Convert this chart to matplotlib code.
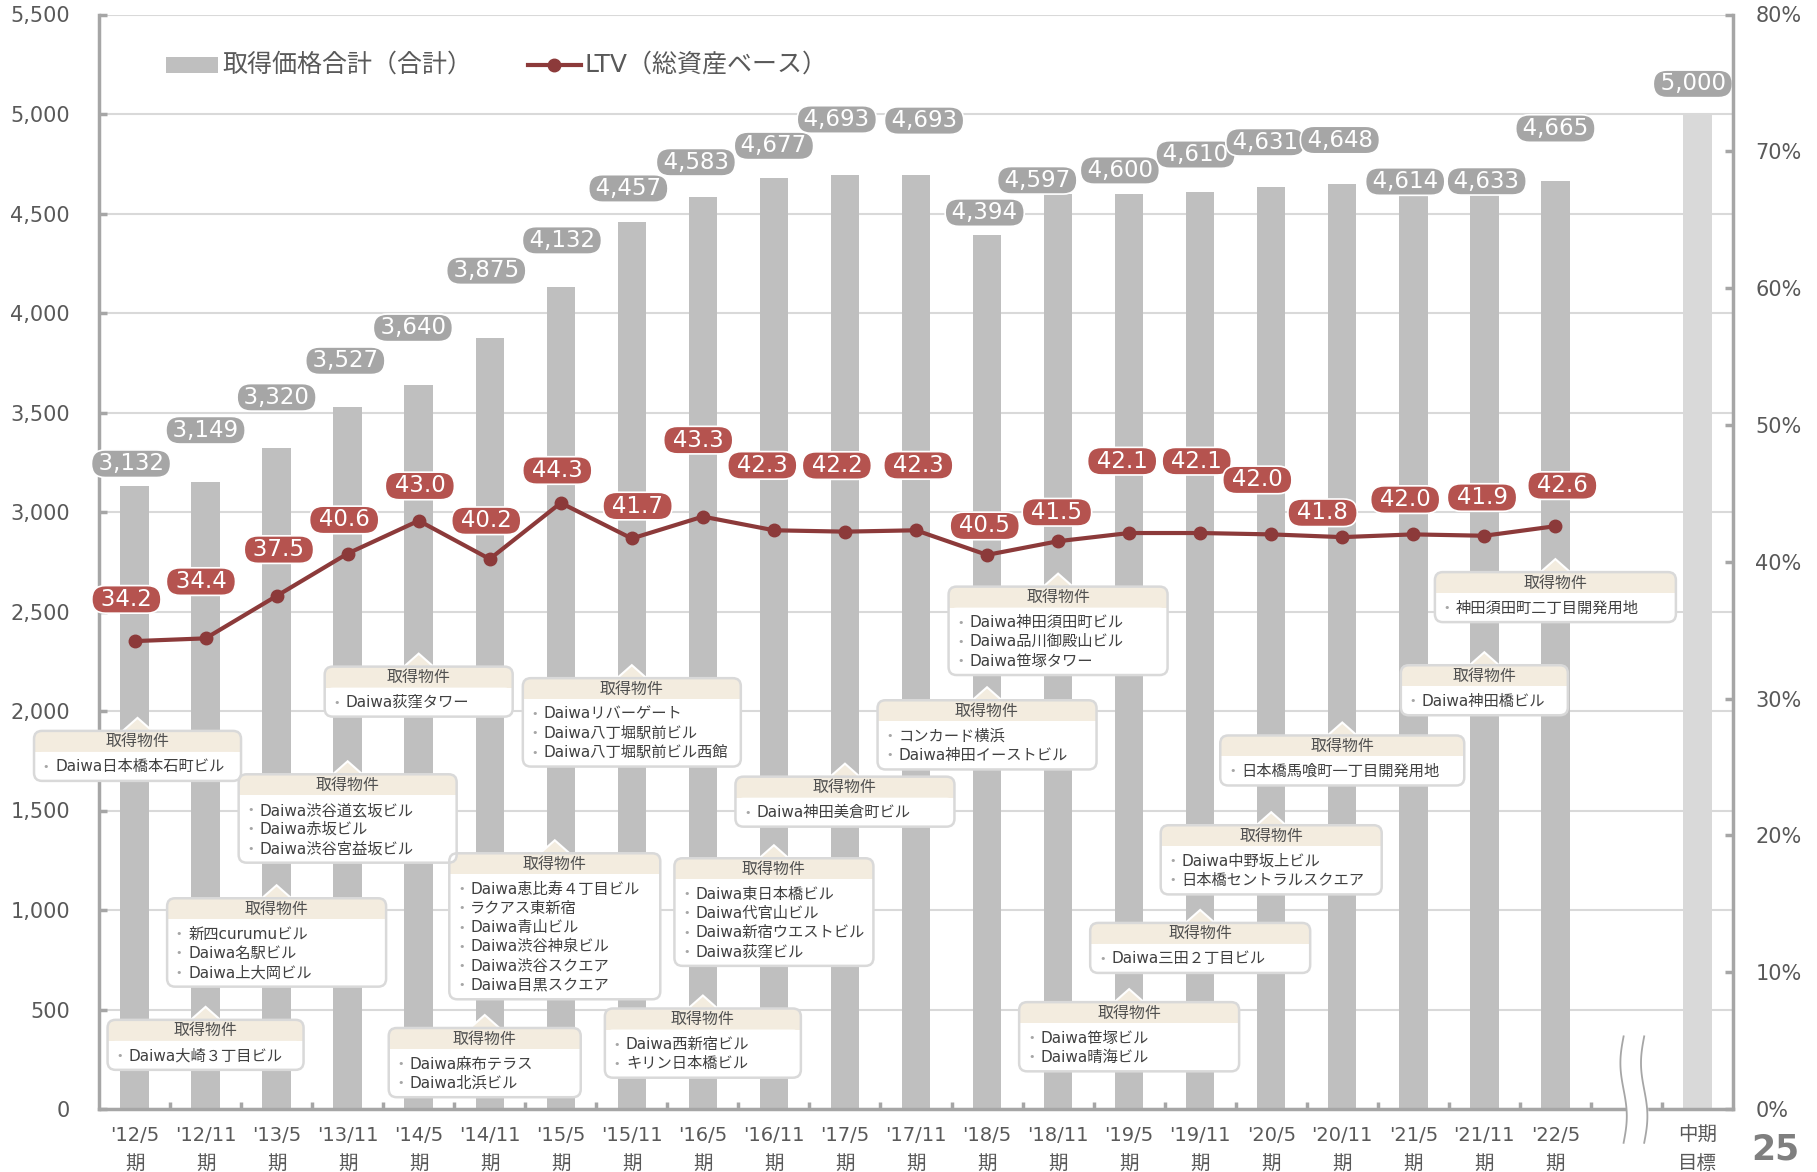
import matplotlib
matplotlib.use("Agg")
import matplotlib.pyplot as plt
import numpy as np
from matplotlib.patches import FancyBboxPatch, Rectangle, Polygon
from matplotlib.transforms import IdentityTransform
from matplotlib.lines import Line2D

plt.rcParams['font.family'] = ['DejaVu Sans', 'Noto Sans CJK JP']

# Data
periods = ["'12/5", "'12/11", "'13/5", "'13/11", "'14/5", "'14/11", "'15/5",
           "'15/11", "'16/5", "'16/11", "'17/5", "'17/11", "'18/5", "'18/11",
           "'19/5", "'19/11", "'20/5", "'20/11", "'21/5", "'21/11", "'22/5"]
price = [3132, 3149, 3320, 3527, 3640, 3875, 4132, 4457, 4583, 4677, 4693,
         4693, 4394, 4597, 4600, 4610, 4631, 4648, 4614, 4633, 4665]
ltv = [34.2, 34.4, 37.5, 40.6, 43.0, 40.2, 44.3, 41.7, 43.3, 42.3, 42.2,
       42.3, 40.5, 41.5, 42.1, 42.1, 42.0, 41.8, 42.0, 41.9, 42.6]
target_label = "中期\n目標"
target_price = 5000

# acquired properties per period
acq_period = [0, 1, 2, 3, 4, 5, 6, 7, 8, 9, 10, 12, 13, 14, 15, 16, 17, 19, 20]
acq_names = [
    ["Daiwa日本橋本石町ビル"],
    ["Daiwa大崎３丁目ビル"],
    ["新四curumuビル", "Daiwa名駅ビル", "Daiwa上大岡ビル"],
    ["Daiwa渋谷道玄坂ビル", "Daiwa赤坂ビル", "Daiwa渋谷宮益坂ビル"],
    ["Daiwa荻窪タワー"],
    ["Daiwa麻布テラス", "Daiwa北浜ビル"],
    ["Daiwa恵比寿４丁目ビル", "ラクアス東新宿", "Daiwa青山ビル",
     "Daiwa渋谷神泉ビル", "Daiwa渋谷スクエア", "Daiwa目黒スクエア"],
    ["Daiwaリバーゲート", "Daiwa八丁堀駅前ビル", "Daiwa八丁堀駅前ビル西館"],
    ["Daiwa西新宿ビル", "キリン日本橋ビル"],
    ["Daiwa東日本橋ビル", "Daiwa代官山ビル", "Daiwa新宿ウエストビル", "Daiwa荻窪ビル"],
    ["Daiwa神田美倉町ビル"],
    ["コンカード横浜", "Daiwa神田イーストビル"],
    ["Daiwa神田須田町ビル", "Daiwa品川御殿山ビル", "Daiwa笹塚タワー"],
    ["Daiwa笹塚ビル", "Daiwa晴海ビル"],
    ["Daiwa三田２丁目ビル"],
    ["Daiwa中野坂上ビル", "日本橋セントラルスクエア"],
    ["日本橋馬喰町一丁目開発用地"],
    ["Daiwa神田橋ビル"],
    ["神田須田町二丁目開発用地"],
]

# layout of the callouts: box top (left axis units) and box width (px)
box_top = [1900, 448, 1059, 1682, 2223, 407, 1285, 2165, 505, 1260, 1670,
           2054, 2625, 537, 935, 1426, 1877, 2230, 2698]
box_w = [207, 196, 219, 218, 188, 192, 211, 218, 196, 199, 219, 219, 219,
         220, 220, 221, 244, 167, 241]
box_dx = [3, 0, 0, 0, 0, -5, -6, 0, 0, 0, 0, 0, 0, 0, 0, 0, 0, 0, 0]

# label offsets (px, image coords)
bar_lbl_dx = [-3, 0, 0, -2, -5, -3, 1, -3, -6, 0, -7, 7, -2, -18, -8, -4,
              -5, -2, -7, 2, 0]
bar_lbl_dy = [19, 45, 44, 40, 49, 58, 40, 29, 30, 28, 48, 47, 19, 12, 20,
              32, 39, 38, 8, 5, 45]
ltv_lbl_dx = [-7, -4, 2, -3, 1, -3, -3, 5, -4, -10, -7, 2, -2, -1, -6, -3,
              -12, -17, -7, -2, 6]
ltv_lbl_dy = [36, 49, 40, 29, 30, 33, 28, 28, 66, 56, 57, 56, 25, 25, 62,
              62, 47, 21, 30, 33, 35]

W, H = 1817, 1172
S = 1.1588 * 0.72  # shrunk-view px -> points

bar_c = '#BFBFBF'
red_line = '#8C3A3A'
red_box = '#B5534F'
beige = '#F3ECDF'
axis_c = '#A6A6A6'
txt_c = '#595959'

fig = plt.figure(figsize=(W / 100, H / 100), dpi=100)
ax = fig.add_axes([99 / W, 1 - 1109 / H, (1733 - 99) / W, (1109 - 14.5) / H])
ax2 = ax.twinx()

x = np.arange(len(periods))
xt = len(periods) + 1
ax.bar(x, price, width=0.4, color=bar_c, zorder=2)
ax.bar([xt], [target_price], width=0.4, color='#D9D9D9', zorder=2)

ax.set_xlim(-0.5, xt + 0.5)
ax.set_ylim(0, 5500)
ax.set_yticks(np.arange(0, 5501, 500))
ax.set_yticklabels([f"{v:,}" for v in range(0, 5501, 500)])
ax.grid(axis='y', color='#D9D9D9', lw=1.5)
ax.set_axisbelow(True)

ax.set_xticks(list(x) + [xt])
ax.set_xticklabels([p + "\n期" for p in periods] + [target_label],
                   linespacing=1.6)
ax.set_xticks(np.arange(0.5, xt, 1.0), minor=True)
ax.tick_params(axis='x', which='major', length=0, pad=12, labelsize=14,
               labelcolor=txt_c)
ax.tick_params(axis='x', which='minor', direction='in', length=5, width=2.5,
               color=axis_c)
ax.tick_params(axis='y', direction='in', length=6, width=2.5, color=axis_c,
               pad=21, labelsize=15, labelcolor=txt_c)

for s in ['top', 'right']:
    ax.spines[s].set_visible(False)
for s in ['left', 'bottom']:
    ax.spines[s].set_color(axis_c)
    ax.spines[s].set_linewidth(2.5)
for s in ['top', 'left', 'bottom']:
    ax2.spines[s].set_visible(False)
ax2.spines['right'].set_color(axis_c)
ax2.spines['right'].set_linewidth(2.5)

ax2.set_ylim(0, 80)
ax2.set_yticks(np.arange(0, 81, 10))
ax2.set_yticklabels([f"{v}%" for v in range(0, 81, 10)])
ax2.tick_params(axis='y', direction='in', length=6, width=2.5, color=axis_c,
                pad=16, labelsize=15, labelcolor=txt_c)

# LTV line
ax2.plot(x, ltv, color=red_line, lw=3, marker='o', ms=9, zorder=3)

# bar value labels
sp = '\u2009'
for i, v in enumerate(price):
    ax.annotate(sp + f"{v:,}" + sp, (x[i], v),
                xytext=(bar_lbl_dx[i] * S, bar_lbl_dy[i] * S),
                textcoords='offset points', ha='center', va='center',
                fontsize=16.5, color='white', zorder=7,
                bbox=dict(boxstyle='round,pad=0.1,rounding_size=0.6',
                          fc='#A6A6A6', ec='white', lw=1.2))
ax.annotate(sp + f"{target_price:,}" + sp, (xt, target_price),
            xytext=(-4 * S, 26 * S), textcoords='offset points',
            ha='center', va='center', fontsize=16.5, color='white', zorder=7,
            bbox=dict(boxstyle='round,pad=0.1,rounding_size=0.6',
                      fc='#A6A6A6', ec='white', lw=1.2))

# LTV labels
for i, v in enumerate(ltv):
    ax2.annotate(sp + '\u200a' + f"{v:.1f}" + '\u200a' + sp, (x[i], v),
                 xytext=(ltv_lbl_dx[i] * S, ltv_lbl_dy[i] * S),
                 textcoords='offset points', ha='center', va='center',
                 fontsize=16.5, color='white', zorder=8,
                 bbox=dict(boxstyle='round,pad=0.1,rounding_size=0.6',
                           fc=red_box, ec='white', lw=1.2))

# callouts of acquired properties
tr = IdentityTransform()
for k, xi in enumerate(acq_period):
    names = acq_names[k]
    cx, ty = ax.transData.transform((xi, box_top[k]))
    cx += box_dx[k]
    w = box_w[k]
    h = 50 + 19.2 * (len(names) - 1)
    left, bot = cx - w / 2, ty - h
    ax.add_patch(Polygon([[cx - 17, ty - 2], [cx + 17, ty - 2], [cx, ty + 13]],
                         closed=True, fc=beige, ec='white', lw=1.5,
                         transform=tr, zorder=6, clip_on=False))
    ax.add_patch(FancyBboxPatch((left, bot), w, h,
                                boxstyle='round,pad=0,rounding_size=8',
                                fc=beige, ec='none', transform=tr,
                                zorder=6.1, clip_on=False))
    ax.add_patch(FancyBboxPatch((left, bot), w, h - 21,
                                boxstyle='round,pad=0,rounding_size=8',
                                fc='white', ec='none', transform=tr,
                                zorder=6.2, clip_on=False))
    ax.add_patch(Rectangle((left, ty - 31), w, 10, fc='white', ec='none',
                           transform=tr, zorder=6.2, clip_on=False))
    ax.add_patch(FancyBboxPatch((left, bot), w, h,
                                boxstyle='round,pad=0,rounding_size=8',
                                fc='none', ec='#D9D9D9', lw=1.8, transform=tr,
                                zorder=6.3, clip_on=False))
    ax.text(cx, ty - 11, "取得物件", transform=tr, ha='center', va='center',
            fontsize=11.5, color='#505050', zorder=6.4)
    for j, nm in enumerate(names):
        yy = ty - 36 - 19.2 * j
        ax.text(left + 12, yy, "•", transform=tr, ha='center', va='center',
                fontsize=8, color='#A6A6A6', zorder=6.4)
        ax.text(left + 21, yy, nm, transform=tr, ha='left', va='center',
                fontsize=11, color='#404040', zorder=6.4)

# axis break marks
t = np.linspace(0, 1, 60)
yy = -170 + t * 535
xl = 20.96 + 0.045 * np.sin(2 * np.pi * t)
xr = 21.25 + 0.045 * np.sin(2 * np.pi * t)
ax.fill_betweenx(yy, xl, xr, color='white', zorder=4, clip_on=False)
ax.plot(xl, yy, color=axis_c, lw=1.3, zorder=5, clip_on=False)
ax.plot(xr, yy, color=axis_c, lw=1.3, zorder=5, clip_on=False)

# legend
fig.patches.append(Rectangle((166 / W, 1 - 73 / H), 52 / W, 16 / H,
                             transform=fig.transFigure, fc=bar_c, ec='none'))
fig.text(222 / W, 1 - 65 / H, "取得価格合計（合計）", fontsize=18,
         color=txt_c, va='center', ha='left')
fig.lines.append(Line2D([528 / W, 581 / W], [1 - 65 / H, 1 - 65 / H],
                        transform=fig.transFigure, color=red_line, lw=3,
                        marker=None))
fig.lines.append(Line2D([554 / W], [1 - 65 / H], transform=fig.transFigure,
                        color=red_line, marker='o', ms=9))
fig.text(584 / W, 1 - 65 / H, "LTV（総資産ベース）", fontsize=18,
         color=txt_c, va='center', ha='left')

# page number
fig.text(1775 / W, 1 - 1150 / H, "25", fontsize=25, fontweight='bold',
         color='#7F7F7F', ha='center', va='center')

fig.savefig("out.png", dpi=100)
